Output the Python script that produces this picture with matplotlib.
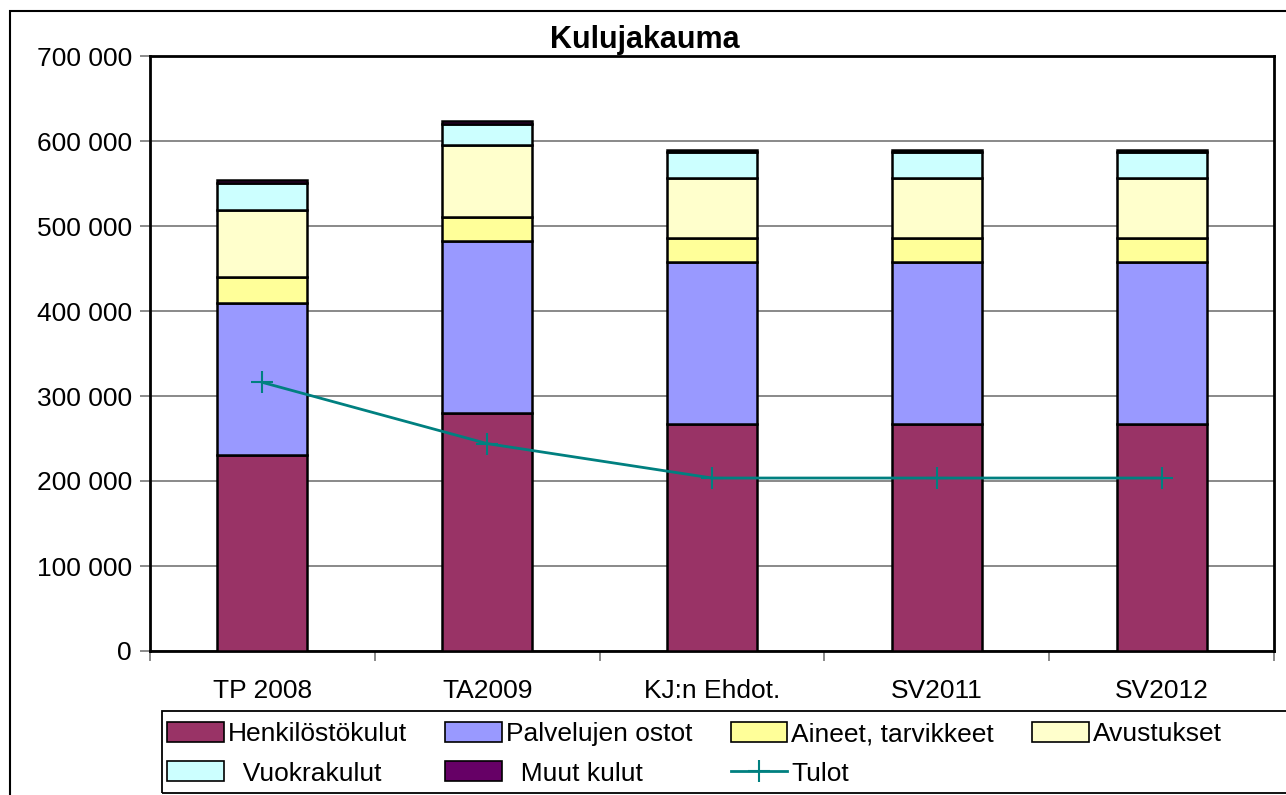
import matplotlib
matplotlib.use('Agg')
import matplotlib.pyplot as plt
import matplotlib.ticker as mticker
from matplotlib.lines import Line2D
from matplotlib.patches import Rectangle
import numpy as np

plt.rcParams['font.family'] = ['Liberation Sans', 'DejaVu Sans']

# Kulujakauma, euroa
categories = ['TP 2008', 'TA2009', 'KJ:n Ehdot.', 'SV2011', 'SV2012']
henkilosto = [231000, 280000, 267000, 267000, 267000]
palvelut = [178500, 202000, 190500, 190500, 190500]
aineet = [30500, 28500, 28500, 28500, 28500]
avustukset = [79000, 84500, 70500, 70500, 70500]
vuokrat = [32000, 25500, 30500, 30500, 30500]
muut = [3000, 2500, 2500, 2500, 2500]
tulot = [316000, 244000, 203500, 203500, 203500]

series = [
    ('Henkilöstökulut', henkilosto, '#993366'),
    ('Palvelujen ostot', palvelut, '#9999FF'),
    ('Aineet, tarvikkeet', aineet, '#FFFF99'),
    ('Avustukset', avustukset, '#FFFFCC'),
    ('  Vuokrakulut', vuokrat, '#CCFFFF'),
    ('  Muut kulut', muut, '#660066'),
]

fig = plt.figure(figsize=(12.86, 7.95), dpi=100)
ax = fig.add_axes([150 / 1286, 144 / 795, 1124 / 1286, 595 / 795])

x = np.arange(len(categories))
bottom = np.zeros(len(categories))
handles = []
for name, vals, color in series:
    ax.bar(x, vals, 0.4, bottom=bottom, color=color, edgecolor='black',
           linewidth=1.8, zorder=3)
    bottom += np.array(vals)
    handles.append(Rectangle((0, 0), 1, 1, facecolor=color, edgecolor='black',
                             linewidth=1.2, label=name))

ax.plot(x, tulot, color='#008080', linewidth=2, marker='+', markersize=16,
        markeredgewidth=1.5, zorder=4)
handles.append(Line2D([], [], color='#008080', linewidth=2, marker='+',
                      markersize=16, markeredgewidth=1.5, label='Tulot'))

ax.set_xlim(-0.5, len(categories) - 0.5)
ax.set_ylim(0, 700000)
ax.set_yticks(np.arange(0, 700001, 100000))
ax.yaxis.set_major_formatter(mticker.FuncFormatter(
    lambda v, p: f'{int(v):,}'.replace(',', ' ')))
ax.yaxis.grid(True, color='#808080', linewidth=1.3, zorder=0)

ax.set_xticks(x)
ax.set_xticklabels(categories, fontsize=19)
ax.set_xticks(np.arange(-0.5, len(categories)), minor=True)
ax.tick_params(axis='x', which='major', length=0, pad=20)
ax.tick_params(axis='x', which='minor', length=7, color='#808080', width=1.3)
ax.tick_params(axis='y', labelsize=19, length=7, color='#808080', width=1.3, pad=6)

for s in ax.spines.values():
    s.set_linewidth(2)
    s.set_color('black')

fig.text(645 / 1286, 755 / 795, 'Kulujakauma', ha='center', va='center',
         fontsize=22, fontweight='bold')

# legend order so rows read left to right
order = [0, 4, 1, 5, 2, 6, 3]
leg = fig.legend([handles[i] for i in order],
                 [handles[i].get_label() for i in order],
                 ncol=4, loc='upper left',
                 bbox_to_anchor=(167 / 1286, 73 / 795),
                 fontsize=19, frameon=False, handlelength=2.15,
                 handleheight=0.8, handletextpad=0.15, columnspacing=1.45,
                 labelspacing=0.57, borderpad=0, borderaxespad=0)

# legend box runs off the right edge
fig.patches.append(Rectangle((162 / 1286, 2 / 795), 1.0, 82 / 795,
                             transform=fig.transFigure, fill=False,
                             edgecolor='black', linewidth=1.3))

# outer chart frame
fig.patches.append(Rectangle((10 / 1286, -0.01), 1.1, 784 / 795 + 0.01,
                             transform=fig.transFigure, fill=False,
                             edgecolor='black', linewidth=1.5))

fig.savefig('out.png', dpi=100, facecolor='white')
